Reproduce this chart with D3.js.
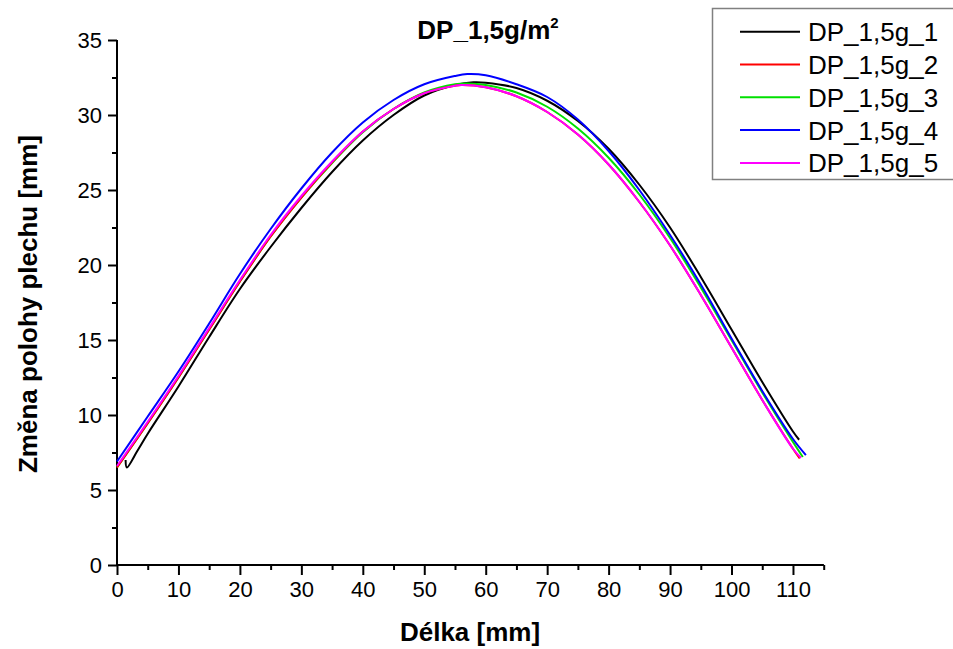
<!DOCTYPE html>
<html>
<head>
<meta charset="utf-8">
<script src="https://cdn.jsdelivr.net/npm/d3@7/dist/d3.min.js"></script>
<style>
  html, body { margin: 0; padding: 0; background: #fff; }
  svg { display: block; }
  text { font-family: "Liberation Sans", Arial, sans-serif; }
</style>
</head>
<body>
<svg id="chart" width="953" height="649"></svg>
<script>
const seriesNames = ["DP_1,5g_1", "DP_1,5g_2", "DP_1,5g_3", "DP_1,5g_4", "DP_1,5g_5"];
const seriesColors = ["#000000", "#ff0000", "#00e000", "#0000ff", "#ff00ff"];

const x1 = [1.4, 1.6, 3.3, 5, 10, 15, 20, 25, 30, 35, 40, 45, 50, 55, 58, 60, 65, 70, 75, 80, 85, 90, 95, 100, 105, 110, 111.0];
const y1 = [7.0, 6.5, 7.6, 8.75, 11.9, 15.2, 18.4, 21.2, 23.8, 26.2, 28.3, 30.0, 31.3, 32.0, 32.18, 32.15, 31.8, 30.95, 29.6, 27.75, 25.35, 22.5, 19.2, 15.7, 12.2, 8.9, 8.35];

const x2 = [0, 5, 10, 15, 20, 25, 30, 35, 40, 45, 50, 55, 56, 60, 65, 70, 75, 80, 85, 90, 95, 100, 105, 110, 111.1];
const y2 = [6.5, 9.45, 12.5, 15.7, 18.9, 21.9, 24.5, 26.85, 28.9, 30.4, 31.45, 31.95, 32.0, 31.85, 31.25, 30.2, 28.7, 26.7, 24.2, 21.3, 18.0, 14.5, 11.0, 7.75, 7.1];

const x3 = [0, 5, 10, 15, 20, 25, 30, 35, 40, 45, 50, 55, 57, 60, 65, 70, 75, 80, 85, 90, 95, 100, 105, 110, 111.6];
const y3 = [6.5, 9.45, 12.5, 15.7, 18.9, 21.9, 24.5, 26.8, 28.85, 30.4, 31.5, 32.05, 32.1, 32.0, 31.5, 30.55, 29.1, 27.15, 24.7, 21.8, 18.5, 15.0, 11.5, 8.2, 7.2];

const x4 = [0, 5, 10, 15, 20, 25, 30, 35, 40, 45, 50, 55, 57, 60, 65, 70, 75, 80, 85, 90, 95, 100, 105, 110, 112.1];
const y4 = [6.9, 9.9, 12.9, 16.1, 19.4, 22.4, 25.1, 27.5, 29.5, 31.0, 32.05, 32.6, 32.73, 32.65, 32.05, 31.2, 29.7, 27.6, 25.0, 22.0, 18.7, 15.1, 11.6, 8.4, 7.33];

const x5 = [0, 5, 10, 15, 20, 25, 30, 35, 40, 45, 50, 55, 56, 60, 65, 70, 75, 80, 85, 90, 95, 100, 105, 110, 111.3];
const y5 = [6.6, 9.55, 12.6, 15.8, 19.0, 22.0, 24.6, 26.9, 28.9, 30.4, 31.45, 31.95, 32.0, 31.85, 31.25, 30.2, 28.7, 26.7, 24.2, 21.3, 18.0, 14.5, 11.0, 7.75, 7.15];

const xMajorTicks = [0, 10, 20, 30, 40, 50, 60, 70, 80, 90, 100, 110];
const xMinorTicks = [5, 15, 25, 35, 45, 55, 65, 75, 85, 95, 105, 115];
const yMajorTicks = [0, 5, 10, 15, 20, 25, 30, 35];
const yMinorTicks = [2.5, 7.5, 12.5, 17.5, 22.5, 27.5, 32.5];

const titleText = "DP_1,5g/m";
const titleSup = "2";
const xTitle = "Délka [mm]";
const yTitle = "Změna polohy plechu [mm]";

const xs = [x1, x2, x3, x4, x5];
const ys = [y1, y2, y3, y4, y5];

const svg = d3.select("#chart");
const x = d3.scaleLinear().domain([0, 115]).range([117, 823.7]);
const y = d3.scaleLinear().domain([0, 35]).range([565, 40]);

// X axis
const gx = svg.append("g").attr("transform", `translate(0,${y(0)})`);
gx.call(d3.axisBottom(x).tickValues(xMajorTicks).tickSize(10).tickPadding(6).tickFormat(d3.format("d")));
gx.append("g").call(d3.axisBottom(x).tickValues(xMinorTicks).tickSize(5).tickFormat(""));
gx.selectAll(".domain").attr("d", `M${x(0)},0H${x(115)}`);
gx.selectAll("path, line").attr("stroke", "#000").attr("stroke-width", 2);
gx.selectAll("text").attr("font-size", 22).attr("fill", "#000").attr("font-family", "Liberation Sans, Arial, sans-serif");

// Y axis
const gy = svg.append("g").attr("transform", `translate(${x(0)},0)`);
gy.call(d3.axisLeft(y).tickValues(yMajorTicks).tickSize(9).tickPadding(6).tickFormat(d3.format("d")));
gy.append("g").call(d3.axisLeft(y).tickValues(yMinorTicks).tickSize(5).tickFormat(""));
gy.selectAll(".domain").attr("d", `M0,${y(0)}V${y(35)}`);
gy.selectAll("path, line").attr("stroke", "#000").attr("stroke-width", 2);
gy.selectAll("text").attr("font-size", 22).attr("fill", "#000").attr("font-family", "Liberation Sans, Arial, sans-serif");

// Lines
const line = d3.line().x(d => x(d[0])).y(d => y(d[1])).curve(d3.curveCatmullRom.alpha(0.5));
const order = [0, 2, 1, 4, 3];
order.forEach(i => {
  const pts = xs[i].map((v, k) => [v, ys[i][k]]);
  svg.append("path")
    .datum(pts)
    .attr("d", line)
    .attr("fill", "none")
    .attr("stroke", seriesColors[i])
    .attr("stroke-width", 2);
});

// Title
const t = svg.append("text").attr("x", 488).attr("y", 39).attr("text-anchor", "middle")
  .attr("font-size", 26).attr("font-weight", "bold").attr("fill", "#000");
t.append("tspan").text(titleText);
t.append("tspan").attr("font-size", 15).attr("dy", -11).text(titleSup);

// Axis titles
svg.append("text").attr("x", 470).attr("y", 641).attr("text-anchor", "middle")
  .attr("font-size", 26).attr("font-weight", "bold").attr("fill", "#000").text(xTitle);
svg.append("text").attr("transform", "translate(37,304) rotate(-90)").attr("text-anchor", "middle")
  .attr("font-size", 26).attr("font-weight", "bold").attr("fill", "#000").text(yTitle);

// Legend
const lg = svg.append("g");
lg.append("rect").attr("x", 712.5).attr("y", 8.5).attr("width", 260).attr("height", 171)
  .attr("fill", "#fff").attr("stroke", "#808080").attr("stroke-width", 1.5);
seriesNames.forEach((name, i) => {
  const yy = 31.7 + i * 32.8;
  lg.append("line").attr("x1", 740).attr("x2", 800).attr("y1", yy).attr("y2", yy)
    .attr("stroke", seriesColors[i]).attr("stroke-width", 2);
  lg.append("text").attr("x", 808).attr("y", yy + 9.5).attr("font-size", 26)
    .attr("fill", "#000").text(name);
});
</script>
</body>
</html>
